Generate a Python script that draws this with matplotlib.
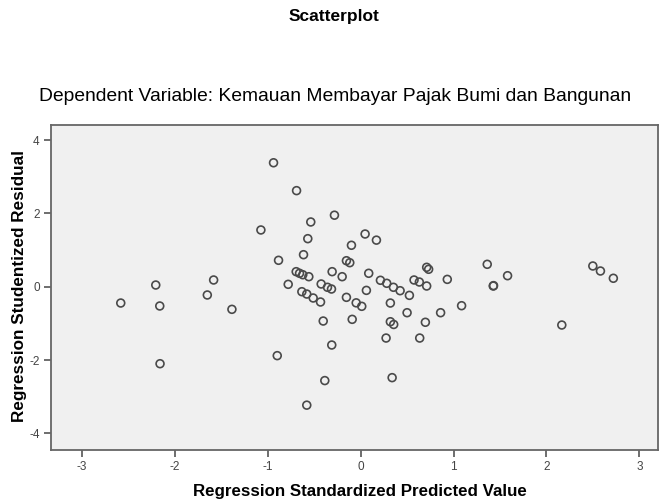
import matplotlib.pyplot as plt
import numpy as np

plt.rcParams['font.family'] = ['Liberation Sans', 'DejaVu Sans']
plt.rcParams['axes.unicode_minus'] = False

# standardized predicted value (x) and studentized residual (y)
pred = [-2.584, -2.207, -2.164, -2.161, -1.652, -1.584, -1.387, -1.075,
        -0.939, -0.885, -0.899, -0.781, -0.691, -0.695, -0.659, -0.624,
        -0.559, -0.634, -0.581, -0.512, -0.433, -0.616, -0.570, -0.538,
        -0.283, -0.581, -0.387, -0.312, -0.404, -0.426, -0.358, -0.315,
        -0.308, -0.200, -0.154, -0.118, -0.100, -0.154, -0.049, 0.011,
        -0.092, 0.047, 0.169, 0.086, 0.061, 0.212, 0.280, 0.352,
        0.424, 0.273, 0.338, 0.319, 0.355, 0.319, 0.524, 0.499,
        0.635, 0.696, 0.574, 0.631, 0.710, 0.710, 0.731, 0.860,
        0.932, 1.086, 1.362, 1.427, 1.430, 1.581, 2.165, 2.499,
        2.581, 2.720]
resid = [-0.445, 0.046, -0.526, -2.100, -0.226, 0.183, -0.617, 1.547,
         3.380, 0.720, -1.880, 0.065, 2.620, 0.410, 0.366, 0.327,
         0.273, -0.136, -0.200, -0.308, -0.417, 0.873, 1.310, 1.765,
         1.950, -3.230, -2.560, -1.590, -0.936, 0.074, -0.016, -0.063,
         0.410, 0.273, 0.709, 0.655, 1.130, -0.290, -0.440, -0.535,
         -0.890, 1.437, 1.270, 0.366, -0.100, 0.175, 0.093, -0.016,
         -0.109, -1.400, -2.480, -0.955, -1.030, -0.445, -0.236, -0.709,
         -1.400, -0.970, 0.183, 0.128, 0.019, 0.529, 0.475, -0.709,
         0.200, -0.518, 0.611, 0.019, 0.030, 0.300, -1.045, 0.565,
         0.428, 0.230]

x_ticks = [-3, -2, -1, 0, 1, 2, 3]
y_ticks = [-4, -2, 0, 2, 4]

fig = plt.figure(figsize=(6.6, 5.04), dpi=100)
ax = fig.add_axes([0.077, 0.107, 0.92, 0.645])
ax.set_facecolor('#f0f0f0')

ax.scatter(pred, resid, s=32, facecolors='none', edgecolors='#4a4a4a', linewidths=1.2)

ax.set_xlim(-3.337, 3.201)
ax.set_ylim(-4.455, 4.41)
ax.set_xticks(x_ticks)
ax.set_yticks(y_ticks)
ax.tick_params(direction='out', length=5, width=1.2, color='#555555',
               labelsize=8.5, labelcolor='#444444', pad=3)

for sp in ax.spines.values():
    sp.set_color('#666666')
    sp.set_linewidth(1.3)

fig.text(0.506, 0.967, 'Scatterplot', ha='center', va='center',
         fontsize=12.5, fontweight='bold')
fig.text(0.508, 0.808, 'Dependent Variable: Kemauan Membayar Pajak Bumi dan Bangunan',
         ha='center', va='center', fontsize=13.9)
fig.text(0.545, 0.025, 'Regression Standardized Predicted Value', ha='center',
         va='center', fontsize=12.2, fontweight='bold')
fig.text(0.029, 0.432, 'Regression Studentized Residual', ha='center',
         va='center', rotation=90, fontsize=12.3, fontweight='bold')

fig.savefig('out.png', dpi=100)
